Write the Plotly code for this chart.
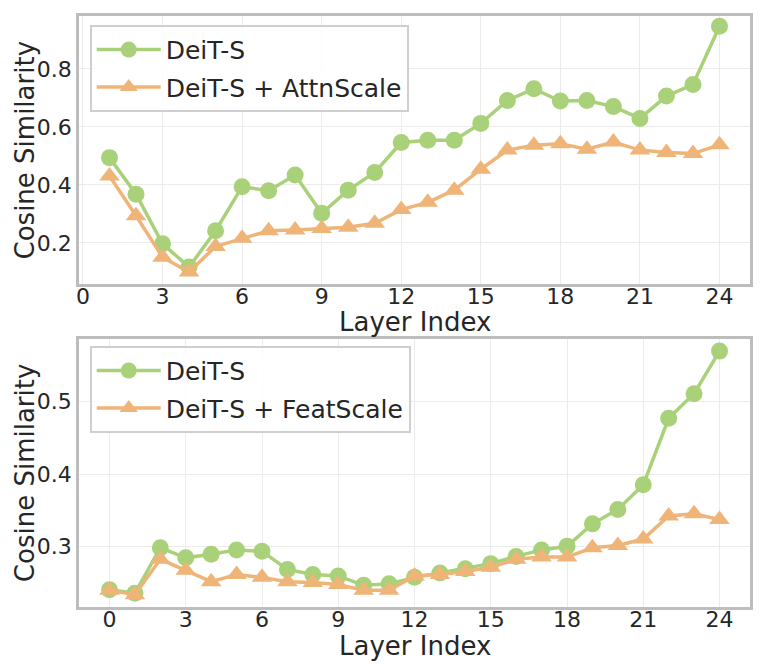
import plotly.graph_objects as go
from plotly.subplots import make_subplots

# layer indices
layers_attn = list(range(1, 25))
layers_feat = list(range(0, 25))

# top panel: DeiT-S vs DeiT-S + AttnScale
deit_attn = [0.494, 0.368, 0.197, 0.117, 0.242, 0.394, 0.380, 0.434, 0.302, 0.382,
             0.443, 0.546, 0.554, 0.554, 0.612, 0.691, 0.731, 0.689, 0.691, 0.670,
             0.629, 0.706, 0.746, 0.947]
attnscale = [0.431, 0.294, 0.151, 0.100, 0.188, 0.216, 0.242, 0.245, 0.250, 0.254,
             0.268, 0.315, 0.340, 0.382, 0.454, 0.520, 0.537, 0.542, 0.523, 0.548,
             0.520, 0.512, 0.508, 0.538]

# bottom panel: DeiT-S vs DeiT-S + FeatScale
deit_feat = [0.240, 0.235, 0.298, 0.284, 0.289, 0.295, 0.293, 0.268, 0.261, 0.259,
             0.246, 0.248, 0.257, 0.263, 0.269, 0.276, 0.286, 0.295, 0.300, 0.331,
             0.351, 0.385, 0.477, 0.511, 0.570]
featscale = [0.239, 0.233, 0.282, 0.267, 0.251, 0.261, 0.257, 0.251, 0.250, 0.247,
             0.239, 0.239, 0.259, 0.261, 0.265, 0.271, 0.282, 0.285, 0.285, 0.298,
             0.301, 0.310, 0.342, 0.345, 0.337]

x_ticks = list(range(0, 25, 3))

GREEN = "#a9d179"
ORANGE = "#efb478"
FONT = "DejaVu Sans"
TEXT = "#262626"

fig = make_subplots(rows=2, cols=1, vertical_spacing=0.0925)


def add_pair(row, x, base, scaled, scaled_name, legend):
    fig.add_trace(go.Scatter(
        x=x, y=base, name="DeiT-S", mode="lines+markers",
        line=dict(color=GREEN, width=3.5),
        marker=dict(symbol="circle", size=17, color=GREEN),
        legend=legend, legendgroup=legend + "a",
    ), row=row, col=1)
    fig.add_trace(go.Scatter(
        x=x, y=scaled, name=scaled_name, mode="lines+markers",
        line=dict(color=ORANGE, width=3.5),
        marker=dict(symbol="triangle-up", size=18, color=ORANGE),
        legend=legend, legendgroup=legend + "b",
    ), row=row, col=1)


add_pair(1, layers_attn, deit_attn, attnscale, "DeiT-S + AttnScale", "legend")
add_pair(2, layers_feat, deit_feat, featscale, "DeiT-S + FeatScale", "legend2")

axis_style = dict(
    showgrid=True, gridcolor="#ebebeb", gridwidth=1,
    showline=True, linecolor="#bdbdbd", linewidth=2.5, mirror=True,
    zeroline=False, ticks="",
    tickfont=dict(family=FONT, size=22, color=TEXT),
)

fig.update_xaxes(**axis_style, tickvals=x_ticks, ticklabelstandoff=-9)
fig.update_yaxes(**axis_style, ticklabelstandoff=0)

fig.update_xaxes(range=[-0.15, 25.15], row=1, col=1)
fig.update_xaxes(range=[-1.2, 25.2], row=2, col=1)
fig.update_yaxes(range=[0.058, 0.982], tickvals=[0.2, 0.4, 0.6, 0.8],
                 tickformat=".1f", row=1, col=1)
fig.update_yaxes(range=[0.216, 0.587], tickvals=[0.3, 0.4, 0.5],
                 tickformat=".1f", row=2, col=1)

# axis titles as annotations so they sit where the reference puts them
title_font = dict(family=FONT, size=26, color=TEXT)
for y in (0.4820, -0.066):
    fig.add_annotation(text="Layer Index", x=0.5, y=y, xref="paper", yref="paper",
                       xanchor="center", yanchor="middle", showarrow=False,
                       font=title_font)
for y in (0.773, 0.227):
    fig.add_annotation(text="Cosine Similarity", x=-0.080, y=y,
                       xref="paper", yref="paper", textangle=-90,
                       xanchor="center", yanchor="middle", showarrow=False,
                       font=title_font)

legend_style = dict(
    bgcolor="rgba(255,255,255,0.85)", bordercolor="#cfcfcf", borderwidth=2,
    font=dict(family=FONT, size=25, color=TEXT),
    xanchor="left", yanchor="top", itemwidth=64, tracegroupgap=2,
)

# the page body adds an 8px margin, so the figure is 8px smaller on each side
fig.update_layout(
    width=753, height=656,
    margin=dict(l=71, r=11, t=5, b=57),
    paper_bgcolor="white", plot_bgcolor="white",
    showlegend=True,
    legend=dict(**legend_style, x=0.016, y=0.985),
    legend2=dict(**legend_style, x=0.016, y=0.442),
)

fig.write_html("out.html")
